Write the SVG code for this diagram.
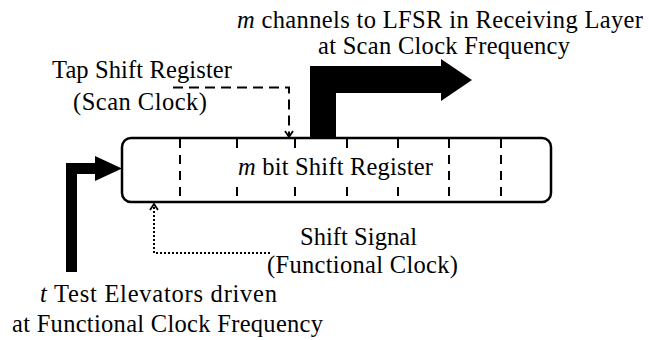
<svg xmlns="http://www.w3.org/2000/svg" width="649" height="340" viewBox="0 0 649 340">
  <style>
    text { font-family: "Liberation Serif", "Times New Roman", serif; font-size: 24.5px; fill: #000; }
    .it { font-style: italic; }
    .box { fill: #fff; stroke: #000; stroke-width: 2.5; }
    .div { stroke: #000; stroke-width: 2; stroke-dasharray: 9 7; fill: none; }
    .dash { stroke: #000; stroke-width: 2; stroke-dasharray: 10 6; fill: none; }
    .dot { stroke: #000; stroke-width: 2; stroke-dasharray: 2 2; fill: none; }
    .fat { fill: #000; stroke: none; }
  </style>
  <defs>
    <marker id="chev" viewBox="0 0 10 10" refX="9" refY="5" markerWidth="10" markerHeight="10" orient="auto" markerUnits="userSpaceOnUse">
      <path d="M3,1 L9,5 L3,9" fill="none" stroke="#000" stroke-width="1.8"/>
    </marker>
  </defs>
  <rect width="649" height="340" fill="#fff"/>

  <g id="connectors">
    <polygon class="fat" points="310,138 310,66 441,66 441,59 472,80 441,101 441,93 336,93 336,138"/>
    <polygon class="fat" points="66,272 66,163 95,163 95,156 122,168.5 95,181 95,174 77,174 77,272"/>
    <path class="dash" d="M173,87.5 H289 V137" marker-end="url(#chev)"/>
    <path class="dot" d="M270,253 H154 V204" marker-end="url(#chev)"/>
  </g>

  <g id="register">
    <rect class="box" x="122" y="138" width="429" height="64" rx="9" ry="9"/>
    <path class="div" d="M180,139 V202 M237,139 V202 M295,139 V202 M347,139 V202 M398,139 V202 M449,139 V202 M501,139 V202"/>
    <rect x="232" y="151" width="208" height="34" fill="#fff"/>
    <text x="238" y="175" textLength="195"><tspan class="it">m</tspan> bit Shift Register</text>
  </g>

  <g id="label-channels">
    <text x="237" y="28" textLength="406"><tspan class="it">m</tspan> channels to LFSR in Receiving Layer</text>
    <text x="318" y="54" textLength="252">at Scan Clock Frequency</text>
  </g>

  <g id="label-tap">
    <text x="52" y="78" textLength="180">Tap Shift Register</text>
    <text x="73" y="110" textLength="134">(Scan Clock)</text>
  </g>

  <g id="label-shift">
    <text x="300" y="245" textLength="117">Shift Signal</text>
    <text x="267" y="273" textLength="191">(Functional Clock)</text>
  </g>

  <g id="label-elevators">
    <text x="40" y="302" textLength="237"><tspan class="it">t</tspan> Test Elevators driven</text>
    <text x="12" y="332" textLength="311">at Functional Clock Frequency</text>
  </g>
</svg>
